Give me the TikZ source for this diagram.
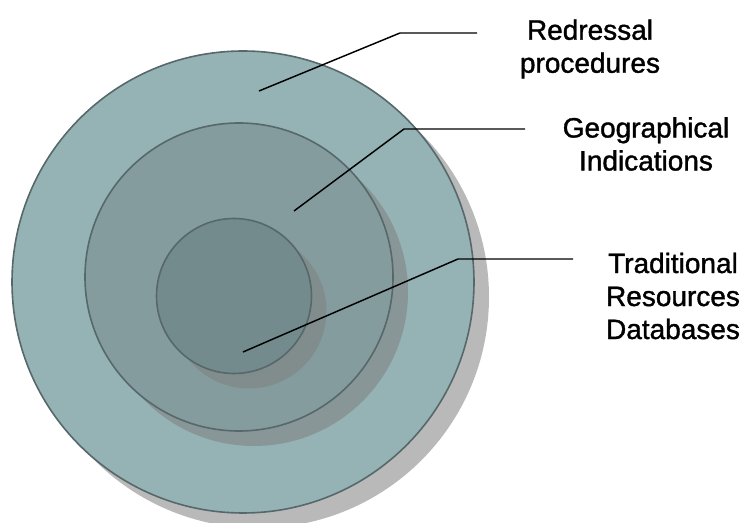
\documentclass[tikz,border=0pt]{standalone}
\usepackage{fontspec}
\setmainfont{Liberation Sans}
\newfontfamily\lblfont{Liberation Sans}[FakeBold=1.3]
\usetikzlibrary{shadows}
\definecolor{ringA}{RGB}{149,178,180}
\definecolor{ringB}{RGB}{132,156,158}
\definecolor{ringC}{RGB}{115,139,140}
\definecolor{ringEdge}{RGB}{86,104,105}
\tikzset{
  ring/.style={circle, draw=ringEdge, line width=1.2pt, inner sep=0pt,
    general shadow={shadow xshift=11.25pt, shadow yshift=-11.25pt, fill=black!50, opacity=0.55}},
  leader/.style={draw=black, line width=1.1pt},
  lbl/.style={align=center, font=\lblfont\fontsize{21}{24.75}\selectfont, inner sep=0pt}
}
\begin{document}
\begin{tikzpicture}[x=0.75pt,y=-0.75pt]
\useasboundingbox (0,0) rectangle (746,523);
\node[ring, fill=ringA, minimum size=346.5pt] (outer) at (243,282) {};
\node[ring, fill=ringB, minimum size=231pt] (middle) at (239,277) {};
\node[ring, fill=ringC, minimum size=116.25pt] (inner) at (234,296) {};

\node[lbl] (t1) at (590,49) {Redressal\\procedures};
\node[lbl] (t2) at (646,144) {Geographical\\Indications};
\node[lbl] (t3) at (673,296) {Traditional\\Resources\\Databases};

\coordinate (p1) at (259,91);
\coordinate (k1) at (400,33);
\coordinate (e1) at (477,33);
\coordinate (p2) at (294,211);
\coordinate (k2) at (404,129);
\coordinate (e2) at (525,129);
\coordinate (p3) at (243,352);
\coordinate (k3) at (458,259);
\coordinate (e3) at (573,259);

\draw[leader] (p1) -- (k1) -- (e1);
\draw[leader] (p2) -- (k2) -- (e2);
\draw[leader] (p3) -- (k3) -- (e3);
\end{tikzpicture}
\end{document}
